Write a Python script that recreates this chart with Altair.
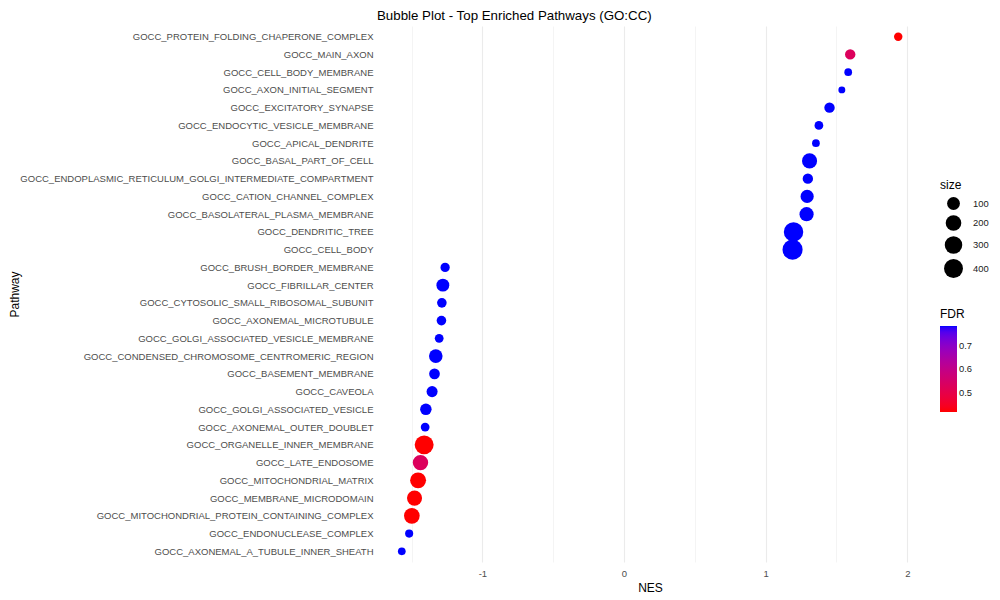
import altair as alt
import pandas as pd

# GSEA result, GO cellular component, ordered top to bottom as in the plot
pathways = [
    "GOCC_PROTEIN_FOLDING_CHAPERONE_COMPLEX",
    "GOCC_MAIN_AXON",
    "GOCC_CELL_BODY_MEMBRANE",
    "GOCC_AXON_INITIAL_SEGMENT",
    "GOCC_EXCITATORY_SYNAPSE",
    "GOCC_ENDOCYTIC_VESICLE_MEMBRANE",
    "GOCC_APICAL_DENDRITE",
    "GOCC_BASAL_PART_OF_CELL",
    "GOCC_ENDOPLASMIC_RETICULUM_GOLGI_INTERMEDIATE_COMPARTMENT",
    "GOCC_CATION_CHANNEL_COMPLEX",
    "GOCC_BASOLATERAL_PLASMA_MEMBRANE",
    "GOCC_DENDRITIC_TREE",
    "GOCC_CELL_BODY",
    "GOCC_BRUSH_BORDER_MEMBRANE",
    "GOCC_FIBRILLAR_CENTER",
    "GOCC_CYTOSOLIC_SMALL_RIBOSOMAL_SUBUNIT",
    "GOCC_AXONEMAL_MICROTUBULE",
    "GOCC_GOLGI_ASSOCIATED_VESICLE_MEMBRANE",
    "GOCC_CONDENSED_CHROMOSOME_CENTROMERIC_REGION",
    "GOCC_BASEMENT_MEMBRANE",
    "GOCC_CAVEOLA",
    "GOCC_GOLGI_ASSOCIATED_VESICLE",
    "GOCC_AXONEMAL_OUTER_DOUBLET",
    "GOCC_ORGANELLE_INNER_MEMBRANE",
    "GOCC_LATE_ENDOSOME",
    "GOCC_MITOCHONDRIAL_MATRIX",
    "GOCC_MEMBRANE_MICRODOMAIN",
    "GOCC_MITOCHONDRIAL_PROTEIN_CONTAINING_COMPLEX",
    "GOCC_ENDONUCLEASE_COMPLEX",
    "GOCC_AXONEMAL_A_TUBULE_INNER_SHEATH",
]
nes = [
    1.936, 1.597, 1.583, 1.538, 1.451, 1.376, 1.355, 1.310, 1.298, 1.293,
    1.289, 1.197, 1.190, -1.263, -1.279, -1.286, -1.289, -1.305, -1.329, -1.338,
    -1.355, -1.399, -1.404, -1.411, -1.437, -1.454, -1.479, -1.498, -1.517, -1.569,
]
set_size = [
    26, 49, 20, 15, 49, 29, 20, 175, 49, 108,
    139, 442, 505, 34, 100, 38, 38, 29, 120, 54,
    60, 68, 29, 400, 190, 214, 175, 202, 23, 20,
]
fdr = [
    0.417, 0.530, 0.786, 0.786, 0.786, 0.786, 0.786, 0.786, 0.786, 0.786,
    0.786, 0.786, 0.786, 0.786, 0.786, 0.786, 0.786, 0.786, 0.786, 0.786,
    0.786, 0.786, 0.786, 0.417, 0.530, 0.417, 0.417, 0.417, 0.786, 0.786,
]
x_grid = [-1.5, -1, -0.5, 0, 0.5, 1, 1.5, 2]

df = pd.DataFrame({"Pathway": pathways, "NES": nes, "size": set_size, "FDR": fdr})

font = "Liberation Sans"

bubbles = (
    alt.Chart(df, title=alt.Title(
        "Bubble Plot - Top Enriched Pathways (GO:CC)",
        anchor="start", frame="group", fontSize=13.3, fontWeight="normal",
        font=font, color="black", offset=4,
    ))
    .mark_circle(opacity=1)
    .encode(
        alt.X("NES:Q")
        .scale(domain=[-1.744, 2.111], nice=False, zero=False)
        .axis(
            values=x_grid,
            labelExpr="datum.value % 1 === 0 ? '' + datum.value : ''",
            gridWidth={"condition": {"test": "datum.value % 1 === 0", "value": 1.1}, "value": 0.55},
            labelPadding=6,
            titlePadding=5,
        ),
        alt.Y("Pathway:N")
        .sort(pathways)
        .scale(type="point", padding=0.6)
        .axis(labelPadding=4, labelLimit=0, titleX=-363, titleBaseline="middle"),
        alt.Size("size:Q")
        .scale(type="sqrt", domain=[15, 505], range=[48, 405], zero=False)
        .legend(
            values=[100, 200, 300, 400], orient="none", legendX=563, legendY=154,
            symbolFillColor="black", symbolStrokeWidth=0, symbolOpacity=1,
            symbolOffset=4, labelOffset=10,
            titleFontSize=12, labelFontSize=9.4, rowPadding=5,
        ),
        alt.Color("FDR:Q")
        .scale(range=["red", "blue"], interpolate="lab", nice=False)
        .legend(
            values=[0.5, 0.6, 0.7], orient="none", legendX=563, legendY=283,
            gradientLength=86, gradientThickness=17, titleFontSize=12,
            labelFontSize=9.4,
        ),
    )
    .properties(width=546, height=536, padding={"left": 0, "top": 0, "right": 0, "bottom": 0})
)

chart = bubbles.configure_view(stroke=None).configure_axis(
    domain=False,
    ticks=False,
    gridColor="#EBEBEB",
    labelFont=font,
    labelFontSize=9.5,
    labelColor="#4D4D4D",
    titleFont=font,
    titleFontSize=12,
    titleFontWeight="normal",
    titleColor="black",
).configure_legend(
    labelFont=font,
    titleFont=font,
    titleFontWeight="normal",
    titleColor="black",
    labelColor="#1A1A1A",
)

chart.save("out.html", embed_options={"renderer": "svg", "actions": False})
